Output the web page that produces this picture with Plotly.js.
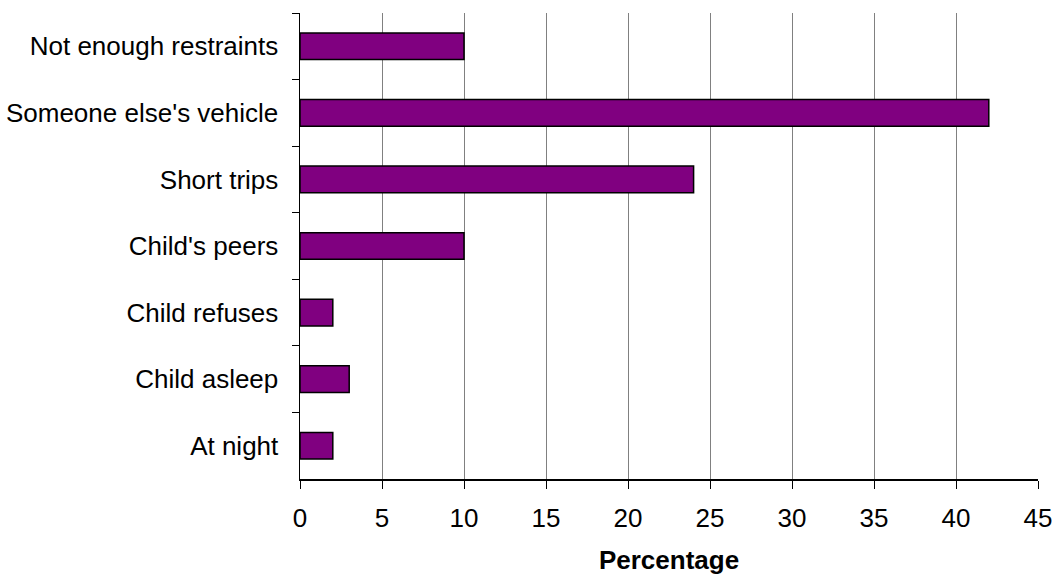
<!DOCTYPE html>
<html>
<head>
<meta charset="utf-8">
<script src="https://cdn.plot.ly/plotly-3.0.1.min.js"></script>
<style>html,body{margin:0;padding:0;background:#fff}#chart{width:1054px;height:575px}</style>
</head>
<body>
<div id="chart"></div>
<script>
const categories = ["Not enough restraints", "Someone else's vehicle", "Short trips", "Child's peers", "Child refuses", "Child asleep", "At night"];
const percentages = [10, 42, 24, 10, 2, 3, 2];
const xTicks = [0, 5, 10, 15, 20, 25, 30, 35, 40, 45];

const trace = {
  type: 'bar',
  orientation: 'h',
  y: categories,
  x: percentages,
  marker: {color: '#800080', line: {color: '#000000', width: 1.5}},
  hoverinfo: 'x+y'
};

const layout = {
  width: 1054, height: 575,
  margin: {l: 300, r: 16, t: 13, b: 96},
  paper_bgcolor: '#ffffff', plot_bgcolor: '#ffffff',
  font: {family: '"Liberation Sans", Arial, sans-serif', size: 26, color: '#000000'},
  bargap: 0.6,
  showlegend: false,
  xaxis: {
    range: [0, 45],
    tickvals: xTicks,
    ticktext: xTicks.map(String),
    showgrid: true, gridcolor: '#808080', gridwidth: 1,
    zeroline: false,
    showline: true, linecolor: '#000000', linewidth: 1.5,
    ticks: 'outside', ticklen: 8, tickcolor: '#000000', tickwidth: 1,
    tickfont: {size: 26},
    ticklabelstandoff: 7,
    title: {text: '<b>Percentage</b>', font: {size: 26}, standoff: 24}
  },
  yaxis: {
    type: 'category',
    autorange: 'reversed',
    showgrid: false,
    zeroline: false,
    showline: true, linecolor: '#000000', linewidth: 1.5,
    ticks: 'outside', ticklen: 7, tickcolor: '#000000', tickwidth: 1,
    tickson: 'boundaries',
    tickfont: {size: 26},
    ticklabelstandoff: 15
  }
};

Plotly.newPlot('chart', [trace], layout, {displayModeBar: false, staticPlot: true});
</script>
</body>
</html>
